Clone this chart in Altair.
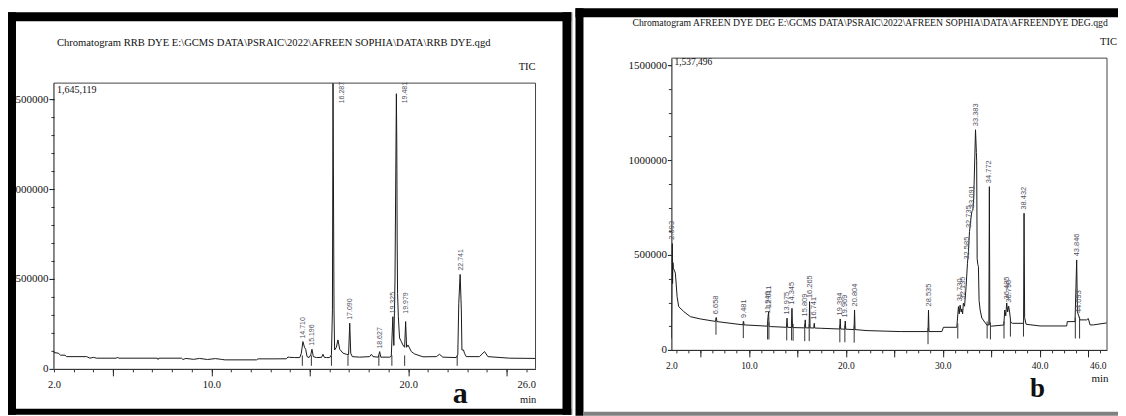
import altair as alt
import pandas as pd

SERIF = "Liberation Serif"
SANS = "Liberation Sans"
INK = "#1a1a1a"
LAB = "#50505e"
FRAME = "#444"

TITLE_A = r"Chromatogram RRB DYE E:\GCMS DATA\PSRAIC\2022\AFREEN SOPHIA\DATA\RRB DYE.qgd"
TITLE_B = r"Chromatogram AFREEN DYE DEG E:\GCMS DATA\PSRAIC\2022\AFREEN SOPHIA\DATA\AFREENDYE DEG.qgd"
MAX_A = "1,645,119"
MAX_B = "1,537,496"

# ---------------- panel a : RRB DYE ----------------
a_time = [2.00, 2.22, 2.34, 2.56, 2.64, 3.66, 3.83, 4.00, 4.17, 5.18, 5.23, 5.28, 7.25, 7.29, 7.33,
          8.48, 8.56, 8.70, 9.10, 9.40, 9.80, 10.20, 10.50, 10.68, 12.29, 12.37, 13.13, 13.81, 13.89,
          13.98, 14.23, 14.49, 14.57, 14.65, 14.73, 14.79, 14.86, 14.96, 15.05, 15.11, 15.18, 15.34,
          15.60, 15.67, 15.74, 15.84, 16.01, 16.10, 16.15, 16.18, 16.23, 16.26, 16.35, 16.43, 16.52,
          16.69, 16.86, 16.97, 17.03, 17.08, 17.16, 17.53, 18.04, 18.13, 18.21, 18.48, 18.55, 18.61,
          19.06, 19.14, 19.22, 19.27, 19.33, 19.37, 19.40, 19.42, 19.44, 19.46, 19.50, 19.56, 19.65,
          19.73, 19.82, 19.87, 19.92, 19.99, 20.07, 20.16, 20.32, 20.75, 21.43, 21.59, 21.76, 22.44,
          22.52, 22.57, 22.64, 22.70, 22.73, 22.81, 22.86, 22.95, 23.62, 23.88, 24.05, 25.15, 26.47]
a_tic = [90600, 87000, 76000, 76000, 68000, 68000, 59400, 64000, 59400, 59400, 66000, 59400, 59400, 52000, 59400,
         59400, 52000, 58000, 53000, 58000, 52000, 57000, 53000, 50000, 50000, 55600, 55600, 56000, 66000,
         64000, 62800, 62800, 87000, 151700, 120000, 109000, 68000, 62800, 78000, 109000, 68000, 62800,
         64000, 81000, 64000, 62800, 62800, 78000, 328000, 1589000, 328000, 105000, 120000, 161000, 109000,
         87000, 81000, 78000, 254000, 87000, 68000, 65000, 68000, 81000, 68000, 65000, 96000, 65000,
         65000, 70000, 290000, 130000, 500000, 1100000, 1530000, 1250000, 700000, 420000, 290000, 172000, 152000,
         133000, 120000, 263000, 120000, 133000, 115000, 96000, 83000, 67000, 68000, 81000, 65000, 62800,
         78000, 365000, 525000, 328000, 105000, 105000, 87000, 68000, 68000, 96000, 68000, 59400, 58000]

a_lab_text = ["14.710", "15.196", "16.287", "17.090", "18.627", "19.325", "19.481", "19.979", "22.741"]
a_lab_time = [14.65, 15.11, 16.62, 17.03, 18.55, 19.22, 19.84, 19.87, 22.66]
a_lab_tic = [152000, 112000, 1460000, 256000, 96000, 292000, 1460000, 290000, 530000]

a_mark_time = [14.62, 15.08, 16.10, 16.94, 18.51, 19.17, 19.82, 22.49]
a_mark_top = [75000, 75000, 75000, 75000, 75000, 75000, 75000, 75000]
a_mark_bot = [17000, 17000, 17000, 17000, 17000, 17000, 17000, 17000]

# ---------------- panel b : AFREEN DYE DEG ----------------
b_time = [2.00, 2.03, 2.06, 2.09, 2.12, 2.16, 2.20, 2.30, 2.41, 2.59, 2.75, 3.27, 3.96, 4.99, 6.55, 6.64,
          6.70, 9.38, 9.45, 9.50, 11.90, 11.96, 12.03, 12.08, 12.21, 13.88, 13.93, 13.98, 14.38, 14.44,
          14.50, 14.61, 15.76, 15.81, 15.86, 16.21, 16.26, 16.31, 16.69, 16.74, 16.79, 17.36, 19.37,
          19.42, 19.47, 19.89, 19.94, 19.99, 20.85, 20.90, 20.95, 22.18, 25.61, 28.48, 28.53, 28.58,
          29.91, 30.07, 31.45, 31.62, 31.70, 31.79, 31.90, 31.96, 32.05, 32.13, 32.25, 32.41, 32.55,
          32.65, 32.76, 32.90, 33.00, 33.10, 33.20, 33.38, 33.47, 33.50, 33.55, 33.62, 33.68, 33.75,
          33.86, 34.03, 34.55, 34.76, 34.81, 34.86, 35.00, 36.30, 36.40, 36.50, 36.60, 36.70, 36.80,
          36.90, 37.02, 37.20, 38.34, 38.39, 38.45, 38.60, 40.04, 42.79, 42.85, 43.65, 43.82, 43.90,
          44.06, 44.16, 44.85, 45.02, 45.20, 45.54, 46.92]
b_tic = [60000, 250000, 450000, 560000, 350000, 460000, 430000, 420000, 404000, 280000, 228000, 202000,
         175000, 163000, 150000, 170000, 149000, 132000, 150000, 131600, 125000, 170000, 201000, 124000,
         122800, 119000, 167000, 119000, 118000, 219000, 117500, 117500, 116000, 158000, 116000, 116000,
         254000, 116000, 115000, 140000, 115000, 114000, 110000, 163000, 110000, 109000, 152000, 109000,
         107000, 210000, 107000, 101600, 96500, 96500, 210000, 96500, 96500, 119000, 119000, 228000,
         190000, 236000, 200000, 215000, 190000, 246000, 230000, 333000, 456000, 517000, 623000, 690000,
         728000, 735000, 800000, 1160000, 1040000, 1000000, 480000, 450000, 440000, 260000, 210000,
         168000, 131000, 131000, 860000, 131000, 125000, 131000, 210000, 180000, 247000, 200000, 230000,
         200000, 145000, 140000, 140000, 720000, 170000, 135000, 126000, 126000, 149000, 149000, 474000,
         200000, 175000, 158000, 158000, 165000, 131600, 131600, 142000]

b_lab_text = ["2.093", "6.658", "9.481", "11.946", "12.011", "13.975", "14.345", "15.809", "16.265",
              "16.741", "19.394", "19.969", "20.804", "28.535", "31.730", "32.135", "32.585", "32.735",
              "33.091", "33.383", "34.772", "36.485", "36.790", "38.432", "43.846", "44.093"]
b_lab_time = [2.10, 6.64, 9.45, 11.96, 12.06, 13.93, 14.44, 15.81, 16.26, 16.74, 19.42, 19.94, 20.90,
              28.53, 31.79, 32.13, 32.55, 32.76, 33.00, 33.38, 34.81, 36.60, 36.80, 38.39, 43.82, 44.06]
b_lab_tic = [565000, 172000, 152000, 175000, 205000, 170000, 222000, 160000, 257000, 143000, 166000,
             155000, 213000, 213000, 240000, 250000, 460000, 626000, 731000, 1163000, 863000, 250000,
             233000, 723000, 477000, 178000]

b_mark_time = [6.60, 9.42, 11.92, 12.06, 13.90, 14.40, 14.56, 15.76, 16.22, 19.38, 19.90, 20.86, 28.48,
               31.55, 34.58, 34.92, 36.32, 36.98, 38.33, 43.68, 44.12]
b_mark_top = [170000, 150000, 145000, 145000, 139000, 138000, 137000, 136000, 136000, 130000, 129000,
              127000, 116000, 140000, 150000, 145000, 150000, 160000, 160000, 170000, 175000]
b_mark_bot = [80000, 62000, 55000, 55000, 50000, 50000, 48000, 46000, 46000, 40000, 40000, 38000, 30000,
              60000, 60000, 55000, 60000, 70000, 70000, 60000, 60000]


def one():
    return pd.DataFrame({"k": [0]})


def rect(x1, x2, y1, y2, color="black", opacity=1.0):
    return alt.Chart(one()).mark_rect(color=color, opacity=opacity).encode(
        x=alt.value(x1), x2=alt.value(x2), y=alt.value(y1), y2=alt.value(y2))


def hline(x1, x2, y, color=FRAME):
    return alt.Chart(one()).mark_rule(color=color, strokeWidth=1).encode(
        x=alt.value(x1), x2=alt.value(x2), y=alt.value(y))


def vline(x, y1, y2, color=FRAME):
    return alt.Chart(one()).mark_rule(color=color, strokeWidth=1).encode(
        x=alt.value(x), y=alt.value(y1), y2=alt.value(y2))


def txt(text, x, y, size, align="left", baseline="middle", bold=False, font=SERIF):
    return alt.Chart(one()).mark_text(
        text=text, font=font, fontSize=size, align=align, baseline=baseline,
        fontWeight="bold" if bold else "normal", color="#111").encode(
        x=alt.value(x), y=alt.value(y))


def panel(time, tic, lab_text, lab_time, lab_tic, mk_time, mk_top, mk_bot, xdom, ydom, W, H,
          xlab_vals, xminor, xmajor, ymajor, yminor, xlab_size, ylab_size, ytick, peak_font,
          ydomain_line, under, over):
    xs = alt.Scale(domain=xdom, nice=False, zero=False)
    ys = alt.Scale(domain=ydom, nice=False, zero=False)
    trace = pd.DataFrame({"t": time, "v": tic})
    line = alt.Chart(trace).mark_line(color=INK, strokeWidth=1, clip=True).encode(
        x=alt.X("t:Q", scale=xs, axis=alt.Axis(
            orient="bottom", values=xlab_vals, format=".1f", ticks=False, tickSize=0,
            labelPadding=11, labelFont=SERIF, labelFontSize=xlab_size, labelColor="#111",
            domainColor="#111", labelFlush=False, labelOverlap=False, grid=False, title=None)),
        y=alt.Y("v:Q", scale=ys, axis=alt.Axis(
            orient="left", values=ymajor, format="d", tickSize=ytick, tickColor="#111",
            labelPadding=1, labelFont=SERIF, labelFontSize=ylab_size, labelColor="#111",
            domain=ydomain_line, domainColor="#111", labelOverlap=False, labelFlush=False,
            grid=False, title=None)))
    marks = pd.DataFrame({"t": mk_time, "v1": mk_top, "v2": mk_bot})
    rules = alt.Chart(marks).mark_rule(color="#333", strokeWidth=1).encode(
        x=alt.X("t:Q", scale=xs, axis=alt.Axis(
            orient="bottom", values=xminor, labels=False, domain=False, tickSize=3,
            tickColor="#333", grid=False, title=None)),
        y=alt.Y("v1:Q", scale=ys, axis=alt.Axis(
            orient="left", values=yminor, labels=False, domain=False, tickSize=3,
            tickColor="#333", grid=False, title=None)),
        y2="v2:Q")
    labs = pd.DataFrame({"txt": lab_text, "t": lab_time, "v": lab_tic})
    text = alt.Chart(labs).mark_text(
        angle=270, align="left", baseline="middle", dx=3, font=SANS, fontSize=peak_font,
        color=LAB).encode(
        x=alt.X("t:Q", scale=xs, axis=alt.Axis(
            orient="bottom", values=xmajor, labels=False, domain=False, tickSize=7,
            tickColor="#222", grid=False, title=None)),
        y=alt.Y("v:Q", scale=ys, axis=None),
        text="txt:N")
    return alt.layer(*under, line, rules, text, *over).resolve_scale(
        x="shared", y="shared").resolve_axis(x="independent", y="independent").properties(
        width=W, height=H)


# panel a: view spans page y 58..369 (both panels share the same plot-origin row);
# the drawn frame starts at page y 83 (rel 25).
pa = panel(
    a_time, a_tic, a_lab_text, a_lab_time, a_lab_tic, a_mark_time, a_mark_top, a_mark_bot,
    xdom=[2.0, 26.47], ydom=[0, 1727900], W=482, H=311,
    xlab_vals=[2, 10, 20, 26], xminor=list(range(2, 27)), xmajor=[5, 10, 15, 20, 25],
    ymajor=[0, 500000, 1000000, 1500000], yminor=[100000 * k for k in range(1, 16)],
    xlab_size=10.5, ylab_size=11, ytick=5, peak_font=7, ydomain_line=False,
    under=[rect(-46, 518, -50, 358, color="white", opacity=0.0)],
    over=[
        hline(0, 482, 25),
        vline(482, 25, 311),
        vline(0, 25, 311, color="#111"),
        txt(TITLE_A, 3, -15, 10.6),
        txt("TIC", 482, 9, 10.5, align="right"),
        txt(MAX_A, 3, 32, 10),
        txt("a", 406.7, 344.7, 30, align="center", baseline="alphabetic", bold=True),
        txt("min", 474.6, 342, 10.5, align="center"),
        rect(-46, -38, -46, 357),
        rect(-46, 518, -46, -37),
        rect(509, 518, -46, 357),
        rect(-46, 518, 351, 357),
        rect(518, 519, -46, 357, color="#9a9a9a"),
    ])

# panel b: view spans page y 58..350, x 671..1107
pb = panel(
    b_time, b_tic, b_lab_text, b_lab_time, b_lab_tic, b_mark_time, b_mark_top, b_mark_bot,
    xdom=[2.0, 46.95], ydom=[0, 1537496], W=436, H=292,
    xlab_vals=[2, 10, 20, 30, 40, 46], xminor=[1.25 * k for k in range(2, 38)],
    xmajor=[5, 10, 15, 20, 25, 30, 35, 40, 45],
    ymajor=[0, 500000, 1000000, 1500000], yminor=[125000 * k for k in range(1, 13)],
    xlab_size=9.5, ylab_size=11, ytick=4, peak_font=7.5, ydomain_line=True,
    under=[rect(-96, 447, -50, 358, color="white", opacity=0.0)],
    over=[
        hline(0, 436, 0),
        vline(436, 0, 292),
        txt(TITLE_B, -39, -35, 9.7),
        txt("TIC", 446, -16, 10.5, align="right"),
        txt(MAX_B, 3, 4, 9.5),
        txt("b", 366.5, 339, 27, align="center", baseline="alphabetic", bold=True),
        txt("min", 429, 321, 11, align="center"),
        rect(-96, -88, -50, 358),
        rect(-96, 447, -50, -41),
        rect(-88, 447, 354, 358, color="#808080"),
    ])

chart = alt.hconcat(pa, pb, spacing=3).properties(padding=0).configure_view(
    stroke="transparent", strokeWidth=0)

chart.save("out.html", embed_options={"renderer": "svg", "actions": False})
